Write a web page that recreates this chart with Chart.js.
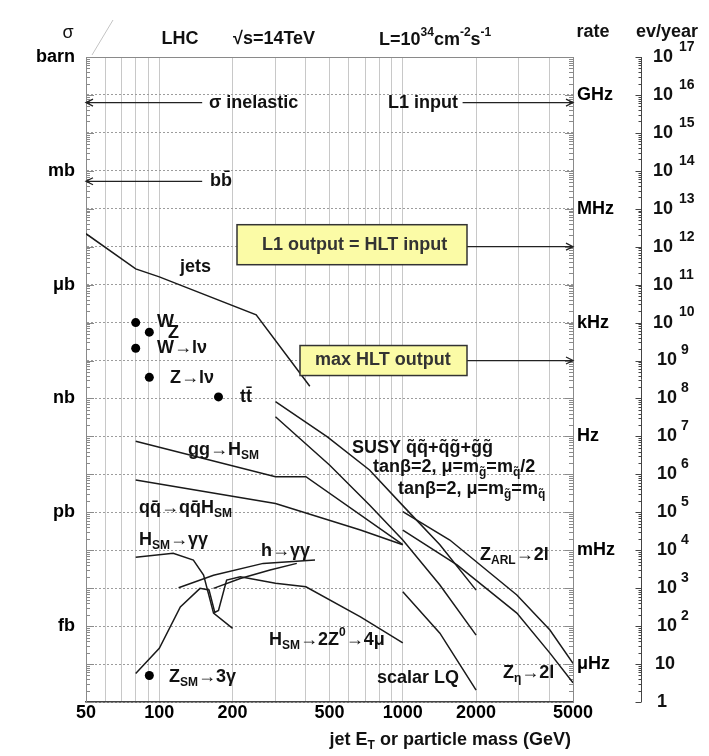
<!DOCTYPE html>
<html>
<head>
<meta charset="utf-8">
<title>LHC cross-sections and rates</title>
<script src="https://cdn.jsdelivr.net/npm/chart.js@4.4.0/dist/chart.umd.min.js"></script>
<style>
  body { margin: 0; background: #fff; }
  canvas { display: block; }
</style>
</head>
<body>
<canvas id="Graphique" width="709" height="756"></canvas>
<script>
/*
  LHC sqrt(s)=14 TeV : cross-sections vs jet E_T or particle mass
  x = GeV, y = cross-section in pb (1 barn = 1e12 pb)
*/
var jets = [[50, 2.2e7], [80, 2.6e6], [100, 1.6e6], [250, 1.6e5], [415, 2.1e3]];
var ggH = [[80, 75], [300, 8.7], [400, 8.7], [1000, 0.14]];
var qqH = [[80, 7.1], [300, 1.7], [670, 0.34], [1000, 0.14]];
var susyHalf = [[300, 830], [490, 97], [730, 13], [1000, 1.5], [1420, 0.14], [2000, 8.9e-3]];
var susyEq = [[300, 330], [500, 17.7], [730, 1.56], [1000, 0.186], [1420, 0.0121], [2000, 5.8e-4]];
var zArl = [[1000, 1.04], [1560, 0.186], [2940, 6.6e-3], [4020, 7.9e-4], [5000, 1.04e-4]];
var zEta = [[1000, 0.34], [1670, 0.041], [2940, 2.2e-3], [4020, 1.94e-4], [5000, 3.2e-5]];
var scalarLQ = [[1000, 8.0e-3], [1420, 6.5e-4], [2000, 2.05e-5]];
var hsmGG = [[80, 0.065], [114, 0.083], [138, 0.055], [152, 0.022], [167, 2.2e-3], [200, 8.7e-4]];
var hsmZZ = [[80, 5.6e-5], [100, 2.6e-4], [122, 3.2e-3], [147, 9.9e-3], [160, 9.0e-3], [169, 2.3e-3],
             [175, 2.6e-3], [189, 0.0164], [215, 0.02], [300, 0.0134], [400, 0.0109], [670, 1.76e-3], [1000, 3.6e-4]];
var hGG1 = [[120, 0.0103], [167, 0.022], [267, 0.045], [436, 0.055]];
var hGG2 = [[167, 9.9e-3], [215, 0.018], [285, 0.030], [367, 0.045]];
// W, Z, W->lv, Z->lv, ttbar, Z_SM->3gamma
var dots = [[80, 1.0e5], [91, 5.6e4], [80, 2.1e4], [91, 3.6e3], [175, 1.1e3], [91, 5e-5]];

// niveaux des fleches (pb)
var sigInel = 6.3e10;
var sigBB = 5.3e8;
var l1Out = 1e7;
var hltOut = 1e4;

var xTicks = [50, 100, 200, 500, 1000, 2000, 5000];
var xGrid = [50, 60, 70, 80, 90, 100, 200, 300, 400, 500, 600, 700, 800, 900, 1000, 2000, 3000, 4000, 5000];
var yDecades = [1e-5, 1e-4, 1e-3, 1e-2, 1e-1, 1, 10, 100, 1e3, 1e4, 1e5, 1e6, 1e7, 1e8, 1e9, 1e10, 1e11, 1e12];
var sigmaVals = [1e12, 1e9, 1e6, 1e3, 1, 1e-3];
var sigmaLabels = ['barn', 'mb', 'μb', 'nb', 'pb', 'fb'];
var rateVals = [1e11, 1e8, 1e5, 1e2, 1e-1, 1e-4];
var rateLabels = ['GHz', 'MHz', 'kHz', 'Hz', 'mHz', 'μHz'];

var FONT = '"Liberation Sans", Arial, "DejaVu Sans", sans-serif';

function courbe(pts) {
    return {
        data: pts.map(function (p) { return { x: p[0], y: p[1] }; }),
        showLine: true,
        borderColor: '#1a1a1a',
        borderWidth: 1.5,
        pointRadius: 0,
        fill: false
    };
}

// texte avec indices / exposants : [texte, 'n' | 'sub' | 'sup']
function richText(ctx, parts, x, y, align, color) {
    var w = 0;
    parts.forEach(function (p) {
        ctx.font = p[1] == 'n' ? 'bold 18px ' + FONT : 'bold 12px ' + FONT;
        w += ctx.measureText(p[0]).width;
    });
    var cx = align == 'right' ? x - w : (align == 'center' ? x - w / 2 : x);
    ctx.textAlign = 'left';
    ctx.textBaseline = 'middle';
    ctx.fillStyle = color || '#111';
    parts.forEach(function (p) {
        ctx.font = p[1] == 'n' ? 'bold 18px ' + FONT : 'bold 12px ' + FONT;
        var dy = p[1] == 'sub' ? 6 : (p[1] == 'sup' ? -7 : 0);
        ctx.fillText(p[0], cx, y + dy);
        cx += ctx.measureText(p[0]).width;
    });
}

function fleche(ctx, x0, x1, y) { // pointe en x1
    var d = x1 > x0 ? -1 : 1;
    ctx.beginPath();
    ctx.moveTo(x0, y);
    ctx.lineTo(x1, y);
    ctx.moveTo(x1 + d * 7, y - 3.5);
    ctx.lineTo(x1, y);
    ctx.lineTo(x1 + d * 7, y + 3.5);
    ctx.stroke();
}

var decor = {
    id: 'decor',
    beforeDatasetsDraw: function (chart) {
        var ctx = chart.ctx, a = chart.chartArea, ys = chart.scales.y;
        ctx.save();
        ctx.strokeStyle = '#8a8a8a';
        ctx.lineWidth = 1;
        ctx.beginPath();
        ctx.moveTo(a.left, a.top + 0.5);
        ctx.lineTo(a.right, a.top + 0.5);
        // petites graduations sur les bords gauche et droit
        for (var d = -5; d < 12; d++) {
            for (var m = 1; m < 10; m++) {
                var y = Math.round(ys.getPixelForValue(m * Math.pow(10, d))) + 0.5;
                var len = m == 1 ? 8 : 4;
                ctx.moveTo(a.left, y); ctx.lineTo(a.left + len, y);
                ctx.moveTo(a.right, y); ctx.lineTo(a.right - len, y);
            }
        }
        ctx.stroke();
        // trait oblique en haut a gauche
        ctx.strokeStyle = '#c4c4c4';
        ctx.beginPath();
        ctx.moveTo(92, 55);
        ctx.lineTo(113, 20);
        ctx.stroke();
        ctx.restore();
    },
    afterDatasetsDraw: function (chart) {
        var ctx = chart.ctx, a = chart.chartArea, xs = chart.scales.x, ys = chart.scales.y;
        ctx.save();

        // fleches
        ctx.strokeStyle = '#222';
        ctx.lineWidth = 1.3;
        var yInel = ys.getPixelForValue(sigInel);
        var yBB = ys.getPixelForValue(sigBB);
        var yL1 = ys.getPixelForValue(l1Out);
        var yHlt = ys.getPixelForValue(hltOut);
        fleche(ctx, xs.getPixelForValue(150), a.left, yInel);
        fleche(ctx, xs.getPixelForValue(150), a.left, yBB);
        fleche(ctx, xs.getPixelForValue(1760), a.right, yInel);
        fleche(ctx, 467, a.right, yL1);
        fleche(ctx, 467, a.right, yHlt);

        // boites jaunes
        ctx.fillStyle = '#fbfba6';
        ctx.strokeStyle = '#333';
        ctx.lineWidth = 1.5;
        ctx.fillRect(237, yL1 - 22, 230, 40);
        ctx.strokeRect(237, yL1 - 22, 230, 40);
        ctx.fillRect(300, yHlt - 15, 167, 30);
        ctx.strokeRect(300, yHlt - 15, 167, 30);
        richText(ctx, [['L1 output = HLT input', 'n']], 262, yL1 - 2, 'left', '#333');
        richText(ctx, [['max HLT output', 'n']], 315, yHlt, 'left', '#333');

        // textes des fleches
        richText(ctx, [['σ inelastic', 'n']], 209, yInel, 'left');
        richText(ctx, [['bb\u0304', 'n']], 210, yBB, 'left');
        richText(ctx, [['L1 input', 'n']], 458, yInel, 'right');

        // etiquettes des courbes
        richText(ctx, [['jets', 'n']], 180, 267, 'left');
        richText(ctx, [['W', 'n']], 157, 322, 'left');
        richText(ctx, [['Z', 'n']], 168, 333, 'left');
        richText(ctx, [['W→lν', 'n']], 157, 348, 'left');
        richText(ctx, [['Z→lν', 'n']], 170, 378, 'left');
        richText(ctx, [['tt\u0304', 'n']], 240, 397, 'left');
        richText(ctx, [['gg→H', 'n'], ['SM', 'sub']], 188, 450, 'left');
        richText(ctx, [['qq\u0304→qq\u0304H', 'n'], ['SM', 'sub']], 139, 508, 'left');
        richText(ctx, [['H', 'n'], ['SM', 'sub'], ['→γγ', 'n']], 139, 540, 'left');
        richText(ctx, [['h→γγ', 'n']], 261, 551, 'left');
        richText(ctx, [['H', 'n'], ['SM', 'sub'], ['→2Z', 'n'], ['0', 'sup'], ['→4μ', 'n']], 269, 640, 'left');
        richText(ctx, [['Z', 'n'], ['SM', 'sub'], ['→3γ', 'n']], 169, 677, 'left');
        richText(ctx, [['SUSY q\u0303q\u0303+q\u0303g\u0303+g\u0303g\u0303', 'n']], 352, 448, 'left');
        richText(ctx, [['tanβ=2, μ=m', 'n'], ['g\u0303', 'sub'], ['=m', 'n'], ['q\u0303', 'sub'], ['/2', 'n']], 373, 467, 'left');
        richText(ctx, [['tanβ=2, μ=m', 'n'], ['g\u0303', 'sub'], ['=m', 'n'], ['q\u0303', 'sub']], 398, 489, 'left');
        richText(ctx, [['Z', 'n'], ['ARL', 'sub'], ['→2l', 'n']], 480, 555, 'left');
        richText(ctx, [['scalar LQ', 'n']], 377, 678, 'left');
        richText(ctx, [['Z', 'n'], ['η', 'sub'], ['→2l', 'n']], 503, 673, 'left');

        // en-tete
        ctx.font = '18px ' + FONT;
        ctx.textAlign = 'center';
        ctx.fillStyle = '#111';
        ctx.fillText('σ', 68, 33);
        richText(ctx, [['LHC', 'n']], 180, 39, 'center');
        richText(ctx, [['√s=14TeV', 'n']], 233, 39, 'left');
        richText(ctx, [['L=10', 'n'], ['34', 'sup'], ['cm', 'n'], ['-2', 'sup'], ['s', 'n'], ['-1', 'sup']], 379, 40, 'left');
        richText(ctx, [['rate', 'n']], 593, 32, 'center');
        richText(ctx, [['ev/year', 'n']], 667, 32, 'center');
        richText(ctx, [['jet E', 'n'], ['T', 'sub'], [' or particle mass (GeV)', 'n']], 571, 740, 'right');

        // axe ev/year (1 barn -> 1e17 evenements par an)
        var ax = 641.5;
        ctx.strokeStyle = '#444';
        ctx.lineWidth = 1;
        ctx.beginPath();
        ctx.moveTo(ax, a.top);
        ctx.lineTo(ax, a.bottom);
        for (var d = -5; d <= 12; d++) {
            for (var m = 1; m < 10; m++) {
                if (d == 12 && m > 1) break;
                var y = Math.round(ys.getPixelForValue(m * Math.pow(10, d))) + 0.5;
                ctx.moveTo(ax, y);
                ctx.lineTo(ax - (m == 1 ? 6 : 3), y);
            }
        }
        ctx.stroke();
        for (var e = 0; e <= 17; e++) {
            var ye = ys.getPixelForValue(Math.pow(10, e - 5));
            if (e == 0) {
                richText(ctx, [['1', 'n']], 657, ye, 'left');
            } else if (e == 1) {
                richText(ctx, [['10', 'n']], 655, ye, 'left');
            } else {
                richText(ctx, [['10', 'n']], e >= 10 ? 653 : 657, ye, 'left');
                ctx.font = 'bold 14px ' + FONT;
                ctx.fillText(String(e), e >= 10 ? 679 : 681, ye - 10);
            }
        }
        ctx.restore();
    }
};

var tickFont = { family: FONT, weight: 'bold', size: 18 };

var data = {
    datasets: [
        courbe(jets), courbe(ggH), courbe(qqH), courbe(susyHalf), courbe(susyEq),
        courbe(zArl), courbe(zEta), courbe(scalarLQ), courbe(hsmGG), courbe(hsmZZ),
        courbe(hGG1), courbe(hGG2),
        {
            data: dots.map(function (p) { return { x: p[0], y: p[1] }; }),
            showLine: false,
            pointRadius: 4.5,
            pointBackgroundColor: '#000',
            pointBorderWidth: 0
        }
    ]
};

var option = {
    responsive: false,
    animation: false,
    devicePixelRatio: 1,
    layout: { padding: { top: 57, left: 0, right: 0, bottom: 0 } },
    plugins: { legend: { display: false }, tooltip: { enabled: false } },
    scales: {
        x: {
            type: 'logarithmic', min: 50, max: 5000, position: 'bottom',
            afterFit: function (s) { s.height = 54; },
            afterBuildTicks: function (s) { s.ticks = xGrid.map(function (v) { return { value: v }; }); },
            ticks: {
                autoSkip: false, maxRotation: 0, padding: 0, color: '#000', font: tickFont,
                callback: function (v) { return xTicks.indexOf(v) >= 0 ? String(v) : ''; }
            },
            grid: { color: '#c8c8c8', drawTicks: false, lineWidth: 1 },
            border: { color: '#444', width: 1.5 }
        },
        y: {
            type: 'logarithmic', min: 1e-5, max: 1e12, position: 'left',
            afterFit: function (s) { s.width = 86; },
            afterBuildTicks: function (s) { s.ticks = yDecades.map(function (v) { return { value: v }; }); },
            ticks: {
                autoSkip: false, padding: 11, color: '#000', font: tickFont,
                callback: function (v) {
                    var e = Math.round(Math.log10(v));
                    for (var i = 0; i < sigmaVals.length; i++) {
                        if (Math.round(Math.log10(sigmaVals[i])) == e) return sigmaLabels[i];
                    }
                    return '';
                }
            },
            grid: { color: '#9c9c9c', drawTicks: false, lineWidth: 1 },
            border: { color: '#8a8a8a', dash: [2, 2] }
        },
        rate: {
            type: 'logarithmic', min: 1e-5, max: 1e12, position: 'right',
            afterFit: function (s) { s.width = 136; },
            afterBuildTicks: function (s) { s.ticks = rateVals.map(function (v) { return { value: v }; }); },
            ticks: {
                autoSkip: false, padding: 4, color: '#000', font: tickFont,
                callback: function (v, i) { return rateLabels[i]; }
            },
            grid: { drawOnChartArea: false, drawTicks: false },
            border: { color: '#8a8a8a' }
        }
    }
};

var chartObj = new Chart(document.getElementById('Graphique').getContext('2d'), {
    type: 'scatter',
    data: data,
    options: option,
    plugins: [decor]
});
</script>
</body>
</html>
